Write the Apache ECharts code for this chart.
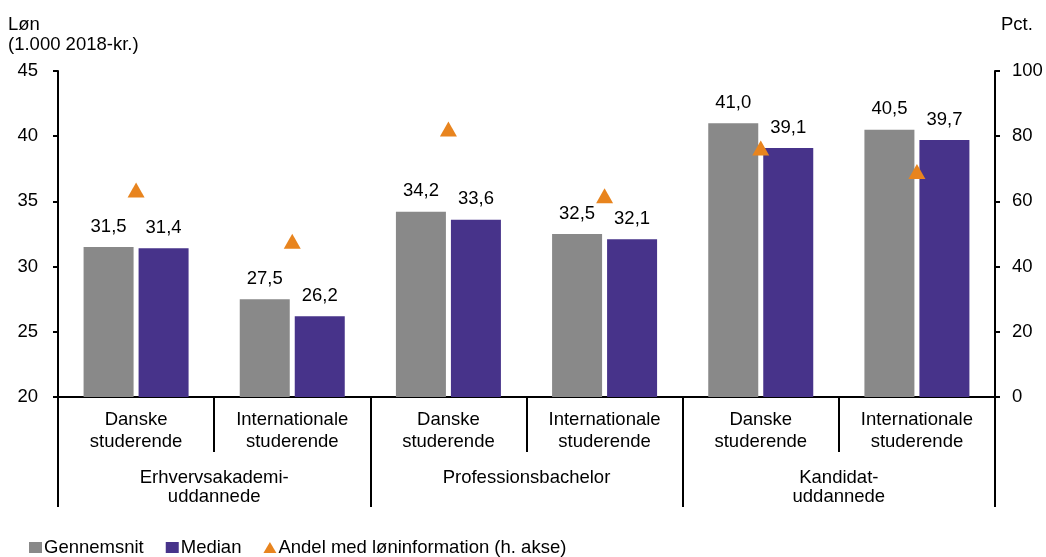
<!DOCTYPE html>
<html><head><meta charset="utf-8">
<script src="https://cdn.jsdelivr.net/npm/echarts@6/dist/echarts.min.js"></script>
<style>html,body{margin:0;padding:0;background:#fff}#c{width:1046px;height:557px}</style>
</head><body><div id="c"></div>
<script>
const categories = ['Danske\nstuderende','Internationale\nstuderende','Danske\nstuderende','Internationale\nstuderende','Danske\nstuderende','Internationale\nstuderende'];
const groups = ['Erhvervsakademi-\nuddannede','Professionsbachelor','Kandidat-\nuddannede'];
const gennemsnit = [31.5, 27.5, 34.2, 32.5, 41.0, 40.5];
const median = [31.4, 26.2, 33.6, 32.1, 39.1, 39.7];
const andel = [63.5, 47.8, 82.2, 61.7, 76.4, 69.2];
const leftTicks = [20, 25, 30, 35, 40, 45];
const rightTicks = [0, 20, 40, 60, 80, 100];

const FONT = '"Liberation Sans", Arial, sans-serif';
const FS = 18.5;
const fmt = v => v.toFixed(1).replace('.', ',');
const chart = echarts.init(document.getElementById('c'));
const axisLine = {show: true, lineStyle: {color: '#000', width: 2}};
chart.setOption({
  animation: false,
  textStyle: {fontFamily: FONT, color: '#000'},
  grid: {left: 58, right: 51, top: 71, bottom: 160, containLabel: false},
  graphic: [
    {type: 'text', left: 8, top: 15, style: {text: 'Løn', font: FS + 'px ' + FONT, fill: '#000'}},
    {type: 'text', left: 8, top: 35, style: {text: '(1.000 2018-kr.)', font: FS + 'px ' + FONT, fill: '#000'}},
    {type: 'text', left: 1001, top: 15, style: {text: 'Pct.', font: FS + 'px ' + FONT, fill: '#000'}}
  ],
  legend: {
    left: 24, bottom: -5, itemWidth: 13, itemHeight: 11, itemGap: 22,
    textStyle: {fontSize: FS, fontFamily: FONT, color: '#000', padding: [0, 0, 0, -3]},
    data: [
      {name: 'Gennemsnit', icon: 'rect'},
      {name: 'Median', icon: 'rect'},
      {name: 'Andel med løninformation (h. akse)', icon: 'triangle'}
    ]
  },
  xAxis: [
    {type: 'category', data: categories, position: 'bottom', offset: 0,
     axisLine: axisLine,
     axisTick: {show: true, length: 55, interval: 0, lineStyle: {color: '#000', width: 2}},
     axisLabel: {interval: 0, fontSize: FS, lineHeight: 22, margin: 12, color: '#000', fontFamily: FONT}},
    {type: 'category', data: groups, position: 'bottom', offset: 0,
     axisLine: {show: false},
     axisTick: {show: true, length: 110, interval: 0, lineStyle: {color: '#000', width: 2}},
     axisLabel: {interval: 0, fontSize: FS, lineHeight: 19, margin: 71, color: '#000', fontFamily: FONT}}
  ],
  yAxis: [
    {type: 'value', min: 20, max: 45, interval: 5, position: 'left',
     axisLine: axisLine, axisTick: {show: true, length: 5, lineStyle: {color: '#000', width: 2}},
     splitLine: {show: false},
     axisLabel: {fontSize: FS, margin: 20, color: '#000', fontFamily: FONT}},
    {type: 'value', min: 0, max: 100, interval: 20, position: 'right',
     axisLine: axisLine, axisTick: {show: true, length: 5, lineStyle: {color: '#000', width: 2}},
     splitLine: {show: false},
     axisLabel: {fontSize: FS, margin: 17, color: '#000', fontFamily: FONT}}
  ],
  series: [
    {name: 'Gennemsnit', type: 'bar', data: gennemsnit, barWidth: 50, barGap: '10%',
     itemStyle: {color: '#898989'},
     label: {show: true, position: 'top', distance: 11, fontSize: FS, color: '#000', fontFamily: FONT, formatter: p => fmt(p.value)}},
    {name: 'Median', type: 'bar', data: median, barWidth: 50,
     itemStyle: {color: '#47338a'},
     label: {show: true, position: 'top', distance: 11, fontSize: FS, color: '#000', fontFamily: FONT, formatter: p => fmt(p.value)}},
    {name: 'Andel med løninformation (h. akse)', type: 'scatter', yAxisIndex: 1, data: andel,
     symbol: 'triangle', symbolSize: [17, 15], itemStyle: {color: '#e8841e', opacity: 1}, z: 5}
  ]
});
</script></body></html>
